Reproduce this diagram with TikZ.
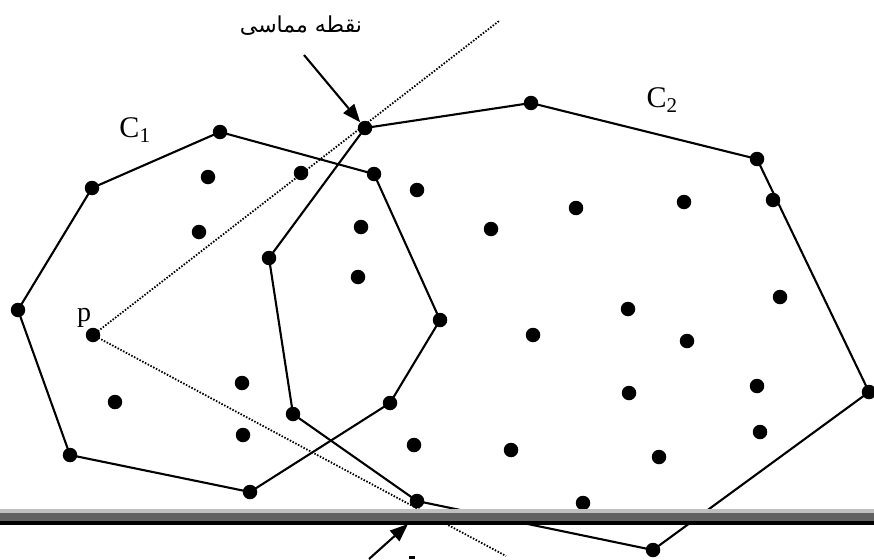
\documentclass[tikz,border=0pt]{standalone}
\usepackage{fontspec}
\setmainfont{Liberation Serif}
\newfontfamily\arabicfont[Script=Arabic]{DejaVu Sans}
\TeXXeTstate=1
\usetikzlibrary{arrows.meta}
\tikzset{
  pt/.style={circle,fill=black,inner sep=0pt,minimum size=14.5pt},
  hull/.style={line width=2.1pt,line join=round},
  tangent/.style={line width=1.8pt,dotted,dash pattern=on 1.5pt off 1.6pt},
  pointer/.style={line width=2.1pt,-{Triangle[length=18pt,width=14pt]}},
  lbl/.style={inner sep=0pt,font=\fontsize{30}{30}\selectfont},
  plbl/.style={inner sep=0pt,font=\fontsize{28}{28}\selectfont}
}
\begin{document}
\begin{tikzpicture}[x=1pt,y=-1pt]
\useasboundingbox (0,0) rectangle (874,559);
% C1 hull vertices
\node[pt] (a1) at (220,132) {};
\node[pt] (a2) at (374,174) {};
\node[pt] (a3) at (440,320) {};
\node[pt] (a4) at (390,403) {};
\node[pt] (a5) at (250,492) {};
\node[pt] (a6) at (70,455) {};
\node[pt] (a7) at (18,310) {};
\node[pt] (a8) at (92,188) {};
% C2 hull vertices
\node[pt] (b1) at (365,128) {};
\node[pt] (b2) at (531,103) {};
\node[pt] (b3) at (757,159) {};
\node[pt] (b4) at (869,392) {};
\node[pt] (b5) at (653,550) {};
\node[pt] (b6) at (417,501) {};
\node[pt] (b7) at (293,414) {};
\node[pt] (b8) at (269,258) {};
% interior points
\node[pt] (p) at (93,335) {};
\foreach \x/\y [count=\i] in {208/177,301/173,199/232,361/227,358/277,115/402,242/383,243/435,
  417/190,491/229,576/208,684/202,773/200,780/297,628/309,533/335,687/341,
  629/393,757/386,760/432,659/457,511/450,414/445,583/503}
  \node[pt] (q\i) at (\x,\y) {};
% hulls
\draw[hull] (a1.center)--(a2.center)--(a3.center)--(a4.center)--(a5.center)--(a6.center)--(a7.center)--(a8.center)--cycle;
\draw[hull] (b1.center)--(b2.center)--(b3.center)--(b4.center)--(b5.center)--(b6.center)--(b7.center)--(b8.center)--cycle;
% tangent lines
\coordinate (t1) at (499,21);
\coordinate (t2) at (506,556);
\draw[tangent] (p.center)--(t1);
\draw[tangent] (p.center)--(t2);
% labels
\node[lbl,anchor=base] (c1) at (135,137) {C\textsubscript{1}};
\node[lbl,anchor=base] (c2) at (662,107) {C\textsubscript{2}};
\node[plbl,anchor=base] (pl) at (84,321) {p};
\node[inner sep=0pt,font=\arabicfont\fontsize{22}{22}\selectfont] (tl) at (301,26) {\beginR نقطه مماسی\endR};
\coordinate (s1) at (304,55);
\draw[pointer] (s1)--(b1);
% bar
\fill[black!25] (0,509) rectangle (874,513);
\fill[black!62] (0,513) rectangle (874,521);
\fill[black] (0,521) rectangle (874,525);
% lower arrow
\coordinate (s2) at (369,559);
\coordinate (e2) at (408,524);
\draw[pointer] (s2)--(e2);
\fill (409,555.5) rectangle (415,559);
\end{tikzpicture}
\end{document}
